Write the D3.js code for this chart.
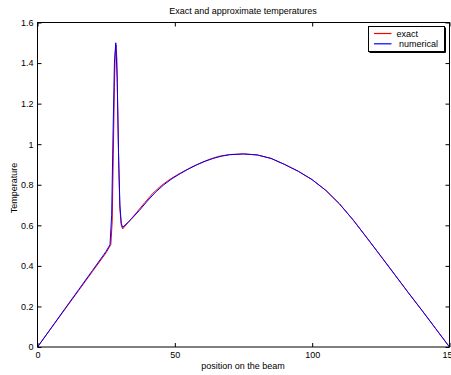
<!DOCTYPE html>
<html>
<head>
<meta charset="utf-8">
<script src="https://cdn.jsdelivr.net/npm/d3@7"></script>
<style>
  body { margin: 0; background: #fff; }
  svg { display: block; font-family: "Liberation Sans", Arial, sans-serif; }
</style>
</head>
<body>
<svg width="451" height="375"></svg>
<script>
// exact solution
var xExact = [0, 5, 10, 15, 20, 25, 26.7, 27.2, 27.6, 28.0, 28.3, 28.6, 28.9, 29.2, 29.6, 30.0, 30.5, 31.0,
  33, 36, 39, 42, 45, 48, 51, 54, 57, 60, 63, 66, 70, 75, 80, 85, 90, 95, 100, 105, 110, 115,
  120, 125, 130, 135, 140, 145, 150];
var yExact = [0, 0.093, 0.186, 0.279, 0.372, 0.465, 0.505, 0.62, 0.95, 1.28, 1.45, 1.49, 1.42, 1.18, 0.88, 0.68, 0.60, 0.582,
  0.614, 0.662, 0.711, 0.758, 0.795, 0.825, 0.850, 0.872, 0.893, 0.911, 0.927, 0.940, 0.949, 0.952, 0.947, 0.930, 0.900, 0.866, 0.825, 0.772, 0.705, 0.625,
  0.537, 0.448, 0.358, 0.268, 0.180, 0.090, 0];

// numerical solution
var xNum = [0, 5, 10, 15, 20, 25, 26.4, 27.0, 27.5, 28.0, 28.5, 29.0, 29.5, 30.0, 30.5, 31,
  34, 37, 40, 43, 46, 49, 52, 55, 58, 61, 64, 67, 70, 75, 80, 85, 90, 95, 100, 105, 110, 115,
  120, 125, 130, 135, 140, 145, 150];
var yNum = [0, 0.094, 0.189, 0.283, 0.377, 0.472, 0.505, 0.65, 1.05, 1.40, 1.50, 1.33, 0.96, 0.70, 0.61, 0.59,
  0.628, 0.672, 0.720, 0.764, 0.800, 0.830, 0.855, 0.878, 0.898, 0.916, 0.930, 0.941, 0.948, 0.952, 0.947, 0.930, 0.900, 0.866, 0.825, 0.772, 0.705, 0.625,
  0.537, 0.448, 0.358, 0.268, 0.180, 0.090, 0];

var xTicks = [0, 50, 100, 150];
var yTicks = [0, 0.2, 0.4, 0.6, 0.8, 1, 1.2, 1.4, 1.6];
var seriesNames = ["exact", " numerical"];
var seriesColors = ["#ff0000", "#0000ff"];

var svg = d3.select("svg");
var pLeft = 37.5, pRight = 449.5, pTop = 22.5, pBottom = 347;

var x = d3.scaleLinear().domain([0, 150]).range([pLeft, pRight]);
var y = d3.scaleLinear().domain([0, 1.6]).range([pBottom, pTop]);

function styleAxis(g) {
  g.select(".domain").remove();
  g.selectAll("line").attr("stroke", "#000");
  g.selectAll("text").attr("fill", "#000").style("font-size", "9px").style("font-family", "Liberation Sans, Arial, sans-serif");
}

svg.append("g").attr("transform", "translate(0," + pBottom + ")")
  .call(d3.axisBottom(x).tickValues(xTicks).tickSizeInner(-4).tickSizeOuter(0).tickPadding(5).tickFormat(d3.format("d")))
  .call(styleAxis);
svg.append("g").attr("transform", "translate(0," + pTop + ")")
  .call(d3.axisTop(x).tickValues(xTicks).tickSizeInner(-4).tickSizeOuter(0).tickFormat(""))
  .call(styleAxis);
svg.append("g").attr("transform", "translate(" + pLeft + ",0)")
  .call(d3.axisLeft(y).tickValues(yTicks).tickSizeInner(-4).tickSizeOuter(0).tickPadding(4).tickFormat(d3.format("~g")))
  .call(styleAxis);
svg.append("g").attr("transform", "translate(" + pRight + ",0)")
  .call(d3.axisRight(y).tickValues(yTicks).tickSizeInner(-4).tickSizeOuter(0).tickFormat(""))
  .call(styleAxis);

var line = d3.line().x(d => x(d[0])).y(d => y(d[1]));

svg.append("path")
  .datum(d3.zip(xExact, yExact))
  .attr("fill", "none").attr("stroke", seriesColors[0]).attr("stroke-width", 1)
  .attr("d", line);
svg.append("path")
  .datum(d3.zip(xNum, yNum))
  .attr("fill", "none").attr("stroke", seriesColors[1]).attr("stroke-width", 1)
  .attr("d", line);

// frame
svg.append("rect")
  .attr("x", pLeft).attr("y", pTop).attr("width", pRight - pLeft).attr("height", pBottom - pTop)
  .attr("fill", "none").attr("stroke", "#000").attr("stroke-width", 1);

// titles
svg.append("text").attr("x", 243).attr("y", 14).attr("text-anchor", "middle")
  .style("font-size", "9px").text("Exact and approximate temperatures");
svg.append("text").attr("x", 243).attr("y", 369).attr("text-anchor", "middle")
  .style("font-size", "9px").text("position on the beam");
svg.append("text").attr("transform", "translate(17,188) rotate(-90)").attr("text-anchor", "middle")
  .style("font-size", "9px").text("Temperature");

// legend
var lg = svg.append("g").attr("transform", "translate(368.5,26.5)");
lg.append("rect").attr("width", 76).attr("height", 25).attr("fill", "#fff").attr("stroke", "#000");
lg.append("path").attr("d", "M77,1V26H1").attr("fill", "none").attr("stroke", "#000");
seriesNames.forEach(function(name, i) {
  var ly = 7 + i * 10.3;
  lg.append("line").attr("x1", 5.5).attr("x2", 23).attr("y1", ly).attr("y2", ly)
    .attr("stroke", seriesColors[i]).attr("stroke-width", 1.2);
  lg.append("text").attr("x", 28).attr("y", ly + 3).style("font-size", "9px")
    .style("white-space", "pre").attr("xml:space", "preserve").text(name);
});
</script>
</body>
</html>
